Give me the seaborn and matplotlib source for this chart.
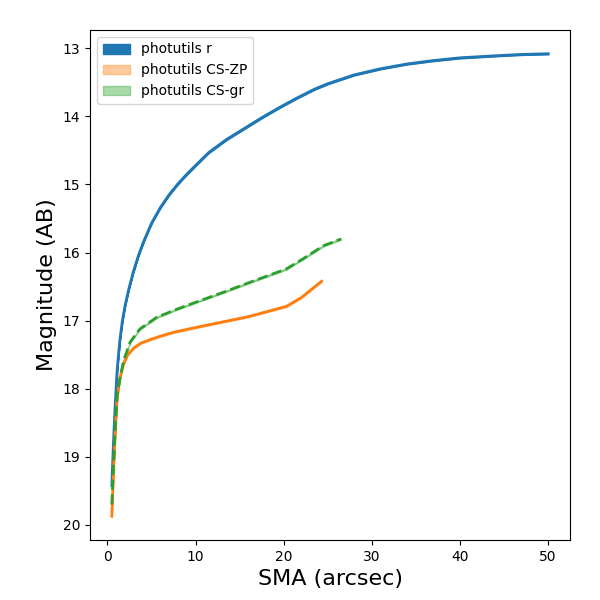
import matplotlib
matplotlib.use("Agg")
import matplotlib.pyplot as plt
import pandas as pd
import seaborn as sns

# Surface brightness profile values
sma_r = [0.5, 0.7, 0.9, 1.1, 1.4, 1.7, 2.0, 2.4, 2.9, 3.5, 4.1, 5.0, 6.0, 7.0,
         8.0, 9.0, 10.0, 11.5, 13.5, 15.5, 17.5, 19.5, 21.5, 23.5, 25.0, 28.0,
         31.0, 34.0, 37.0, 40.0, 44.0, 47.0, 50.0]
mag_r = [19.42, 18.75, 18.2, 17.73, 17.3, 17.0, 16.78, 16.55, 16.3, 16.05, 15.84,
         15.57, 15.34, 15.15, 14.99, 14.85, 14.72, 14.53, 14.34, 14.18, 14.02,
         13.87, 13.73, 13.6, 13.52, 13.39, 13.3, 13.23, 13.18, 13.14, 13.11,
         13.09, 13.08]

sma_zp = [0.5, 0.7, 0.9, 1.1, 1.4, 1.8, 2.3, 3.0, 3.8, 5.0, 6.2, 7.5, 10.0,
          13.0, 16.0, 20.3, 22.0, 24.3]
mag_zp = [19.87, 19.2, 18.6, 18.15, 17.85, 17.65, 17.5, 17.4, 17.33, 17.27,
          17.22, 17.17, 17.1, 17.02, 16.94, 16.79, 16.66, 16.42]

sma_gr = [0.5, 0.7, 0.9, 1.1, 1.45, 1.85, 2.6, 3.7, 5.6, 7.9, 10.0, 13.2,
          16.5, 20.3, 22.2, 24.5, 26.5]
mag_gr = [19.7, 19.1, 18.55, 18.1, 17.83, 17.58, 17.31, 17.12, 16.95, 16.83,
          16.73, 16.58, 16.42, 16.24, 16.09, 15.9, 15.8]

# rough error half-widths
err_r = 0.008
err_zp = 0.01
err_gr = 0.01

series = [
    ("photutils r", sma_r, mag_r, err_r, "#1f77b4", "-", 1.0),
    ("photutils CS-ZP", sma_zp, mag_zp, err_zp, "#ff7f0e", "-", 0.4),
    ("photutils CS-gr", sma_gr, mag_gr, err_gr, "#2ca02c", "--", 0.4),
]

fig, ax = plt.subplots(figsize=(6, 6), dpi=100)
fig.subplots_adjust(left=0.15, right=0.95, top=0.95, bottom=0.1)

handles = []
for label, sma, mag, err, color, ls, alpha in series:
    df = pd.DataFrame({"sma": sma, "mag": mag})
    h = ax.fill_between(df["sma"], df["mag"] - err, df["mag"] + err,
                        color=color, alpha=alpha, label=label)
    handles.append(h)
    sns.lineplot(data=df, x="sma", y="mag", ax=ax, color=color,
                 linestyle=ls, linewidth=2, sort=False, estimator=None)

ax.invert_yaxis()
ax.set_xlabel("SMA (arcsec)", fontsize=16)
ax.set_ylabel("Magnitude (AB)", fontsize=16)
ax.legend(handles=handles, loc="upper left")

plt.savefig("out.png", dpi=100)
